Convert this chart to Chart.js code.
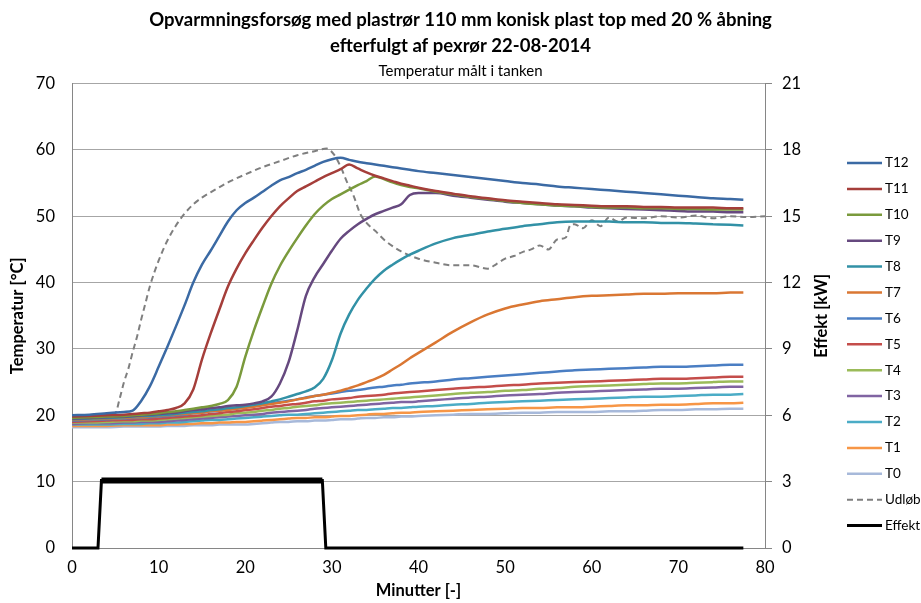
<!DOCTYPE html>
<html>
<head>
<meta charset="utf-8">
<script src="https://cdn.jsdelivr.net/npm/chart.js@4.4.1/dist/chart.umd.min.js"></script>
<style>
  html, body { margin: 0; padding: 0; background: #fff; }
</style>
</head>
<body>
<canvas id="chart" width="921" height="603"></canvas>
<script>
// Tidspunkter (minutter) for tankfølerne T0-T12
const tid = [0, 2, 4, 6,
  7, 8, 9, 10, 11, 12, 13, 14, 15, 16, 17, 18, 19, 20,
  21, 22, 23, 24, 25, 26, 27, 28, 29, 30, 31, 32, 33, 34, 35, 36, 37, 38, 39, 40,
  42, 44, 46, 48, 50, 52, 54, 56, 58, 60, 62, 64, 66, 68, 70, 72, 74, 76,
  77.5];

const t12 = [20.0, 20.1, 20.3, 20.5,
  20.7, 22.2, 24.4, 27.3, 30.3, 33.4, 36.6, 40.0, 42.7, 44.8, 47.0, 49.2, 50.9, 52.0,
  52.8, 53.7, 54.6, 55.4, 55.9, 56.5, 57.0, 57.6, 58.2, 58.6, 58.8, 58.5, 58.2, 58.0, 57.8, 57.6, 57.4, 57.2, 57.0, 56.8,
  56.5, 56.2, 55.9, 55.6, 55.3, 55.0, 54.8, 54.5, 54.3, 54.1, 53.9, 53.7, 53.5, 53.3, 53.1, 52.9, 52.7, 52.6,
  52.5];
const t11 = [19.8, 19.9, 20.0, 20.1,
  20.2, 20.3, 20.4, 20.6, 20.8, 21.1, 21.8, 23.9, 28.4, 32.3, 35.9, 39.4, 42.1, 44.4,
  46.4, 48.3, 50.0, 51.5, 52.7, 53.8, 54.5, 55.2, 55.9, 56.5, 57.1, 57.8, 57.2, 56.6, 56.1, 55.7, 55.3, 54.9, 54.6, 54.3,
  53.8, 53.4, 53.0, 52.7, 52.4, 52.2, 52.0, 51.8, 51.7, 51.6, 51.5, 51.5, 51.4, 51.4, 51.3, 51.3, 51.3, 51.2,
  51.2];
const t10 = [19.6, 19.7, 19.8, 19.9,
  20.0, 20.1, 20.2, 20.3, 20.5, 20.6, 20.8, 21.0, 21.2, 21.4, 21.7, 22.3, 24.3, 28.8,
  32.8, 36.4, 39.8, 42.5, 44.7, 46.7, 48.6, 50.3, 51.6, 52.6, 53.3, 54.0, 54.7, 55.3, 56.0, 55.6, 55.1, 54.7, 54.4, 54.2,
  53.7, 53.3, 52.9, 52.6, 52.3, 52.0, 51.8, 51.6, 51.5, 51.4, 51.3, 51.3, 51.2, 51.2, 51.1, 51.1, 51.0, 51.0,
  51.0];
const t9 = [19.5, 19.6, 19.7, 19.8,
  19.9, 20.0, 20.1, 20.2, 20.3, 20.4, 20.6, 20.8, 20.9, 21.1, 21.2, 21.4, 21.5, 21.6,
  21.8, 22.1, 22.8, 24.8, 28.0, 32.8, 38.0, 40.8, 42.8, 44.8, 46.6, 47.8, 48.8, 49.6, 50.3, 50.8, 51.3, 51.8, 53.2, 53.5,
  53.5, 53.1, 52.8, 52.5, 52.2, 52.0, 51.8, 51.6, 51.5, 51.3, 51.2, 51.1, 51.0, 50.9, 50.8, 50.7, 50.7, 50.6,
  50.6];
const t8 = [19.4, 19.5, 19.6, 19.7,
  19.8, 19.9, 19.9, 20.0, 20.1, 20.2, 20.4, 20.5, 20.6, 20.8, 20.9, 21.1, 21.2, 21.4,
  21.6, 21.8, 22.1, 22.4, 22.8, 23.2, 23.6, 24.2, 25.5, 28.3, 32.3, 35.2, 37.4, 39.1, 40.6, 41.8, 42.7, 43.5, 44.2, 44.8,
  45.9, 46.7, 47.2, 47.7, 48.1, 48.5, 48.8, 49.1, 49.2, 49.2, 49.2, 49.1, 49.1, 49.0, 49.0, 48.9, 48.8, 48.7,
  48.6];
const t7 = [19.3, 19.4, 19.5, 19.6,
  19.7, 19.7, 19.8, 19.9, 20.0, 20.1, 20.2, 20.3, 20.4, 20.6, 20.7, 20.8, 21.0, 21.1,
  21.3, 21.5, 21.7, 21.9, 22.1, 22.4, 22.6, 22.9, 23.1, 23.4, 23.7, 24.1, 24.5, 25.0, 25.5, 26.1, 26.9, 27.7, 28.6, 29.4,
  31.0, 32.6, 34.0, 35.2, 36.1, 36.7, 37.2, 37.5, 37.8, 38.0, 38.1, 38.2, 38.3, 38.3, 38.4, 38.4, 38.4, 38.5,
  38.5];
const t6 = [19.2, 19.3, 19.4, 19.5,
  19.6, 19.6, 19.7, 19.8, 19.9, 20.0, 20.1, 20.3, 20.4, 20.6, 20.7, 20.9, 21.0, 21.2,
  21.4, 21.6, 21.8, 22.0, 22.2, 22.4, 22.7, 22.9, 23.1, 23.3, 23.5, 23.7, 23.8, 24.0, 24.2, 24.3, 24.5, 24.6, 24.8, 24.9,
  25.1, 25.4, 25.6, 25.8, 26.0, 26.2, 26.4, 26.6, 26.8, 26.9, 27.0, 27.1, 27.2, 27.3, 27.3, 27.4, 27.5, 27.6,
  27.6];
const t5 = [19.0, 19.1, 19.2, 19.3,
  19.3, 19.4, 19.4, 19.5, 19.6, 19.7, 19.8, 19.9, 20.0, 20.2, 20.3, 20.5, 20.6, 20.8,
  20.9, 21.1, 21.3, 21.4, 21.6, 21.7, 21.9, 22.1, 22.2, 22.4, 22.5, 22.6, 22.8, 22.9, 23.0, 23.1, 23.3, 23.4, 23.5, 23.6,
  23.8, 24.0, 24.2, 24.3, 24.5, 24.6, 24.8, 24.9, 25.0, 25.1, 25.2, 25.3, 25.4, 25.5, 25.5, 25.6, 25.7, 25.8,
  25.8];
const t4 = [18.9, 18.9, 19.0, 19.1,
  19.1, 19.2, 19.2, 19.3, 19.4, 19.5, 19.6, 19.7, 19.8, 19.9, 20.0, 20.1, 20.3, 20.4,
  20.5, 20.7, 20.8, 21.0, 21.1, 21.3, 21.4, 21.5, 21.7, 21.8, 21.9, 22.0, 22.1, 22.2, 22.3, 22.4, 22.5, 22.6, 22.7, 22.8,
  23.0, 23.2, 23.4, 23.5, 23.7, 23.8, 24.0, 24.1, 24.3, 24.4, 24.5, 24.6, 24.7, 24.8, 24.8, 24.9, 25.0, 25.1,
  25.1];
const t3 = [18.7, 18.8, 18.8, 18.9,
  18.9, 19.0, 19.0, 19.0, 19.1, 19.2, 19.3, 19.4, 19.5, 19.6, 19.7, 19.8, 19.9, 20.0,
  20.1, 20.2, 20.4, 20.5, 20.6, 20.7, 20.8, 21.0, 21.1, 21.2, 21.3, 21.4, 21.5, 21.6, 21.7, 21.8, 21.9, 22.0, 22.0, 22.1,
  22.3, 22.5, 22.7, 22.8, 23.0, 23.1, 23.2, 23.4, 23.5, 23.6, 23.7, 23.8, 23.9, 24.0, 24.0, 24.1, 24.2, 24.3,
  24.3];
const t2 = [18.6, 18.6, 18.6, 18.7,
  18.7, 18.7, 18.8, 18.8, 18.9, 18.9, 19.0, 19.1, 19.2, 19.3, 19.3, 19.4, 19.5, 19.6,
  19.7, 19.8, 19.9, 20.0, 20.1, 20.1, 20.2, 20.3, 20.4, 20.5, 20.6, 20.7, 20.8, 20.8, 20.9, 21.0, 21.1, 21.1, 21.2, 21.3,
  21.4, 21.6, 21.7, 21.9, 22.0, 22.1, 22.2, 22.3, 22.4, 22.5, 22.6, 22.7, 22.8, 22.8, 22.9, 23.0, 23.1, 23.1,
  23.2];
const t1 = [18.4, 18.4, 18.4, 18.5,
  18.5, 18.5, 18.5, 18.5, 18.6, 18.6, 18.7, 18.7, 18.8, 18.8, 18.9, 18.9, 19.0, 19.0,
  19.1, 19.2, 19.3, 19.4, 19.5, 19.6, 19.6, 19.7, 19.7, 19.8, 19.9, 19.9, 20.0, 20.1, 20.2, 20.2, 20.3, 20.4, 20.4, 20.5,
  20.6, 20.7, 20.8, 20.9, 21.0, 21.1, 21.1, 21.2, 21.2, 21.3, 21.4, 21.5, 21.5, 21.6, 21.6, 21.7, 21.8, 21.8,
  21.9];
const t0 = [18.2, 18.2, 18.2, 18.3,
  18.3, 18.3, 18.3, 18.3, 18.4, 18.4, 18.4, 18.5, 18.5, 18.5, 18.6, 18.6, 18.6, 18.6,
  18.7, 18.8, 18.9, 19.0, 19.0, 19.1, 19.1, 19.2, 19.2, 19.3, 19.4, 19.4, 19.5, 19.6, 19.6, 19.7, 19.7, 19.8, 19.8, 19.9,
  20.0, 20.1, 20.2, 20.2, 20.3, 20.4, 20.4, 20.5, 20.5, 20.5, 20.6, 20.6, 20.7, 20.8, 20.8, 20.9, 20.9, 21.0,
  21.0];

// Udløbstemperatur
const udlobTid = [0, 2, 4, 5, 5.5, 6, 6.5, 7, 7.5, 8, 8.5, 9, 10, 11, 12, 13, 14, 15, 16,
  18, 20, 22, 24, 26, 28, 29.4, 30.3, 31, 31.7, 32.5, 33.3, 34, 35, 36, 37, 38,
  40, 42, 44, 46, 48, 49, 50, 51, 52, 53, 54, 55, 56, 57, 57.5, 58, 59, 60, 61, 62, 63, 64,
  66, 68, 70, 72, 74, 76, 78, 80];
const udlob = [20.0, 20.0, 20.0, 20.3, 22.5, 25.0, 27.0, 29.5, 31.8, 34.5, 37.0, 39.5, 43.3, 46.3, 48.6, 50.4, 51.8, 52.8, 53.6,
  55.1, 56.3, 57.4, 58.3, 59.2, 59.8, 60.2, 59.2, 57.5, 55.3, 53.1, 50.3, 49.0, 47.8, 46.5, 45.5, 44.7,
  43.6, 43.0, 42.6, 42.6, 42.1, 42.8, 43.6, 44.0, 44.6, 45.0, 45.6, 45.0, 46.5, 46.8, 48.6, 48.8, 48.2, 49.4, 48.5, 49.8, 49.2, 49.8,
  49.7, 50.0, 49.8, 50.1, 49.7, 50.0, 49.9, 50.0];

// Effekt [kW]
const effektTid = [0, 3.0, 3.4, 10, 20, 28.9, 29.3, 45, 77.5];
const effekt = [0, 0, 3.05, 3.05, 3.05, 3.05, 0, 0, 0];

const serier = ['T12', 'T11', 'T10', 'T9', 'T8', 'T7', 'T6', 'T5', 'T4', 'T3', 'T2', 'T1', 'T0'];
const vaerdier = [t12, t11, t10, t9, t8, t7, t6, t5, t4, t3, t2, t1, t0];
const farver = ['#3B6AA4', '#A53E3A', '#7A9A3C', '#66497F', '#3291A6', '#DA7733', '#4A7EC3',
  '#C44D4A', '#9BBB59', '#8064A2', '#4BACC6', '#F79646', '#A7B9DA'];

const FONT = 'Lato';

const datasets = serier.map((navn, i) => ({
  label: navn,
  data: tid.map((t, j) => ({ x: t, y: vaerdier[i][j] })),
  borderColor: farver[i],
  borderWidth: 2.5,
  pointRadius: 0,
  cubicInterpolationMode: 'monotone',
  yAxisID: 'y'
}));

datasets.push({
  label: 'Udløb',
  data: udlobTid.map((t, j) => ({ x: t, y: udlob[j] })),
  borderColor: '#7F7F7F',
  borderWidth: 2,
  borderDash: [6, 4],
  pointRadius: 0,
  cubicInterpolationMode: 'monotone',
  yAxisID: 'y'
});

datasets.push({
  label: 'Effekt',
  data: effektTid.map((t, j) => ({ x: t, y: effekt[j] })),
  borderColor: '#000000',
  borderWidth: 3,
  pointRadius: 0,
  tension: 0,
  clip: false,
  yAxisID: 'y1'
});

// Forklaring og højre aksetitel tegnes selv (læses nedefra og op som i Excel)
const sidePlugin = {
  id: 'sidePlugin',
  afterDatasetsDraw(chart) {
    // det tykke, støjende effektbånd under opvarmningen
    const ds = chart.getDatasetMeta(datasets.length - 1);
    const ctx = chart.ctx;
    ctx.save();
    ctx.strokeStyle = '#000';
    ctx.lineWidth = 6;
    ctx.beginPath();
    ctx.moveTo(ds.data[2].x, ds.data[2].y);
    ctx.lineTo(ds.data[5].x, ds.data[5].y);
    ctx.stroke();
    ctx.restore();
  },
  afterDraw(chart) {
    const ctx = chart.ctx;
    ctx.save();
    chart.data.datasets.forEach((ds, i) => {
      const y = 163 + i * 25.9;
      ctx.strokeStyle = ds.borderColor;
      ctx.lineWidth = ds.borderWidth;
      ctx.setLineDash(ds.borderDash || []);
      ctx.beginPath();
      ctx.moveTo(847, y);
      ctx.lineTo(882, y);
      ctx.stroke();
      ctx.setLineDash([]);
      ctx.fillStyle = '#000';
      ctx.font = '13.5px ' + FONT;
      ctx.textBaseline = 'middle';
      ctx.fillText(ds.label, 885, y);
    });
    ctx.translate(822, (chart.chartArea.top + chart.chartArea.bottom) / 2);
    ctx.rotate(-Math.PI / 2);
    ctx.font = 'bold 16.5px ' + FONT;
    ctx.textAlign = 'center';
    ctx.textBaseline = 'middle';
    ctx.fillText('Effekt [kW]', 0, 0);
    ctx.restore();
  }
};

new Chart(document.getElementById('chart'), {
  type: 'line',
  data: { datasets: datasets },
  options: {
    responsive: false,
    animation: false,
    layout: { padding: 0 },
    plugins: {
      legend: { display: false },
      tooltip: { enabled: false },
      title: {
        display: true,
        text: ['Opvarmningsforsøg med plastrør 110 mm konisk plast top med 20 % åbning', 'efterfulgt af pexrør 22-08-2014'],
        color: '#000',
        font: { family: FONT, size: 18.5, weight: 'bold', lineHeight: 1.42 },
        padding: { top: 7, bottom: 0 }
      },
      subtitle: {
        display: true,
        text: 'Temperatur målt i tanken',
        color: '#000',
        font: { family: FONT, size: 15, lineHeight: 1.2 },
        padding: { top: 3, bottom: 3 }
      }
    },
    scales: {
      x: {
        type: 'linear',
        min: 0,
        max: 80,
        ticks: { stepSize: 10, color: '#000', font: { family: FONT, size: 16.5 }, padding: 10 },
        grid: { drawOnChartArea: false, drawTicks: false },
        border: { color: '#868686', width: 1 },
        title: { display: true, text: 'Minutter [-]', color: '#000', font: { family: FONT, size: 16.5, weight: 'bold' }, padding: { top: 0, bottom: 2 } },
        afterFit(s) { s.height = 55; }
      },
      y: {
        position: 'left',
        min: 0,
        max: 70,
        ticks: { stepSize: 10, color: '#000', font: { family: FONT, size: 16.5 }, padding: 17 },
        grid: { color: '#A6A6A6', drawTicks: false },
        border: { color: '#868686', width: 1 },
        title: { display: true, text: 'Temperatur [°C]', color: '#000', font: { family: FONT, size: 16.5, weight: 'bold' }, padding: { top: 8, bottom: 0 } },
        afterFit(s) { s.width = 72; }
      },
      y1: {
        position: 'right',
        min: 0,
        max: 21,
        ticks: { stepSize: 3, color: '#000', font: { family: FONT, size: 16.5 }, padding: 10 },
        grid: { drawOnChartArea: false, drawTicks: true, tickLength: 7, color: '#868686' },
        border: { color: '#868686', width: 1 },
        afterFit(s) { s.width = 156; }
      }
    }
  },
  plugins: [sidePlugin]
});
</script>
</body>
</html>
